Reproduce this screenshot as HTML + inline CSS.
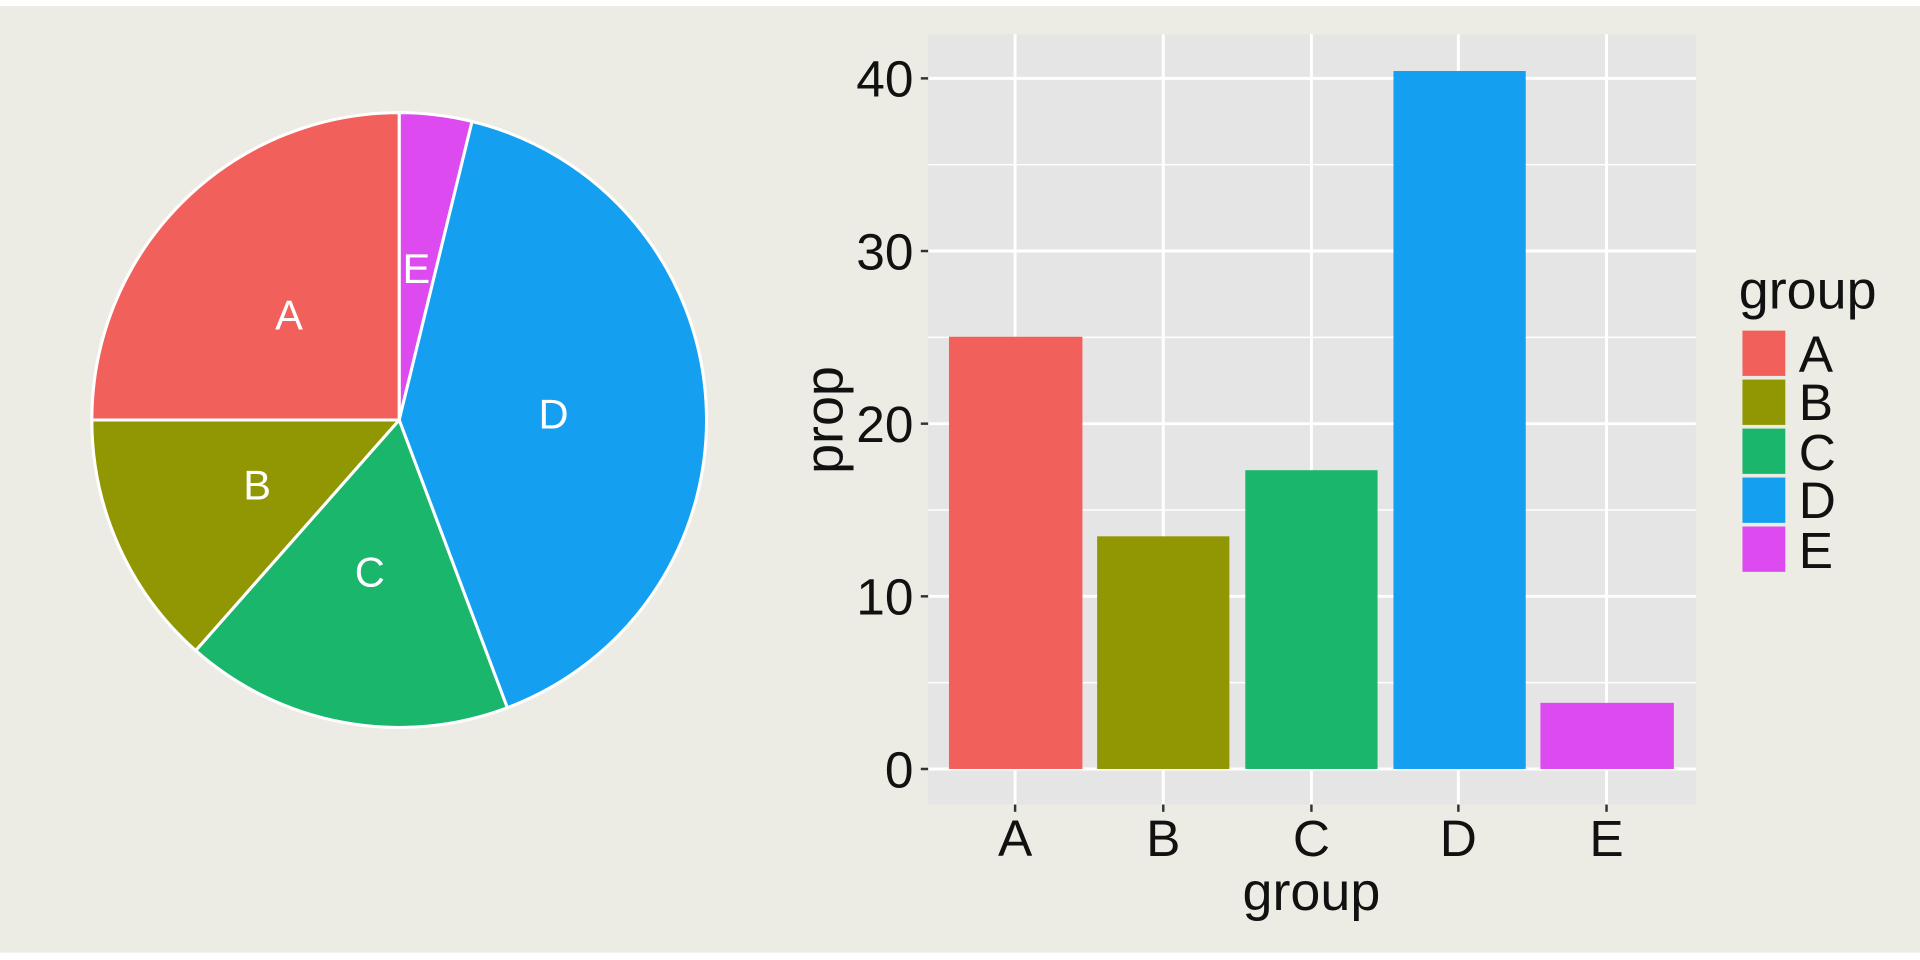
<!DOCTYPE html>
<html><head><style>html,body{margin:0;padding:0;background:#fff}svg{display:block}</style></head>
<body>
<svg width="1920" height="960" viewBox="0 0 1568 784" xmlns="http://www.w3.org/2000/svg" font-family="Liberation Sans, Arial, sans-serif">
<rect x="0" y="0" width="1568" height="784" fill="#fff"/>
<rect x="0" y="5" width="1568" height="773" fill="#ECECE4"/>
<g stroke="#fff" stroke-width="2.5" stroke-linejoin="round">
<path d="M326,343 L326,92 A251,251 0 0 1 385.5,99.2 Z" fill="#DC4AF0"/>
<path d="M326,343 L385.5,99.2 A251,251 0 0 1 414.3,578 Z" fill="#149FF1"/>
<path d="M326,343 L414.3,578 A251,251 0 0 1 159.8,531.3 Z" fill="#19B66C"/>
<path d="M326,343 L159.8,531.3 A251,251 0 0 1 75,343 Z" fill="#919603"/>
<path d="M326,343 L75,343 A251,251 0 0 1 326,92 Z" fill="#F2605C"/>
</g>
<g fill="#fff" font-size="34" text-anchor="middle">
<text x="236" y="269">A</text><text x="210" y="408">B</text><text x="302" y="479">C</text><text x="452" y="350">D</text><text x="340" y="231">E</text>
</g>
<rect x="758" y="28" width="627" height="629" fill="#E5E5E5"/>
<g stroke="#fff" stroke-width="1.2">
<line x1="758" x2="1385" y1="557.5" y2="557.5"/><line x1="758" x2="1385" y1="416.5" y2="416.5"/>
<line x1="758" x2="1385" y1="275.5" y2="275.5"/><line x1="758" x2="1385" y1="134.5" y2="134.5"/>
</g>
<g stroke="#fff" stroke-width="2.4">
<line x1="758" x2="1385" y1="628" y2="628"/><line x1="758" x2="1385" y1="487" y2="487"/>
<line x1="758" x2="1385" y1="346" y2="346"/><line x1="758" x2="1385" y1="205" y2="205"/>
<line x1="758" x2="1385" y1="64" y2="64"/>
<line y1="28" y2="657" x1="829" x2="829"/><line y1="28" y2="657" x1="950" x2="950"/>
<line y1="28" y2="657" x1="1071" x2="1071"/><line y1="28" y2="657" x1="1191" x2="1191"/>
<line y1="28" y2="657" x1="1312" x2="1312"/>
</g>
<rect x="775" y="275" width="109" height="353" fill="#F2605C"/>
<rect x="896" y="438" width="108" height="190" fill="#919603"/>
<rect x="1017" y="384" width="108" height="244" fill="#19B66C"/>
<rect x="1138" y="58" width="108" height="570" fill="#149FF1"/>
<rect x="1258" y="574" width="109" height="54" fill="#DC4AF0"/>
<g stroke="#333" stroke-width="2">
<line x1="752" x2="758" y1="628" y2="628"/><line x1="752" x2="758" y1="487" y2="487"/>
<line x1="752" x2="758" y1="346" y2="346"/><line x1="752" x2="758" y1="205" y2="205"/>
<line x1="752" x2="758" y1="64" y2="64"/>
<line y1="657" y2="663" x1="829" x2="829"/><line y1="657" y2="663" x1="950" x2="950"/>
<line y1="657" y2="663" x1="1071" x2="1071"/><line y1="657" y2="663" x1="1191" x2="1191"/>
<line y1="657" y2="663" x1="1312" x2="1312"/>
</g>
<g fill="#111" font-size="42" text-anchor="end">
<text x="746" y="643">0</text><text x="746" y="502">10</text><text x="746" y="361">20</text><text x="746" y="220">30</text><text x="746" y="79">40</text>
</g>
<g fill="#111" font-size="42" text-anchor="middle">
<text x="829" y="699">A</text><text x="950" y="699">B</text><text x="1071" y="699">C</text><text x="1191" y="699">D</text><text x="1312" y="699">E</text>
<text x="1071" y="743" font-size="44">group</text>
<text transform="translate(688,343) rotate(-90)" font-size="44" y="0">prop</text>
</g>
<text x="1420" y="252" font-size="44" fill="#111">group</text>
<rect x="1423" y="270" width="35" height="37" fill="#F2605C"/>
<rect x="1423" y="310" width="35" height="37" fill="#919603"/>
<rect x="1423" y="350" width="35" height="37" fill="#19B66C"/>
<rect x="1423" y="390" width="35" height="37" fill="#149FF1"/>
<rect x="1423" y="430" width="35" height="37" fill="#DC4AF0"/>
<g fill="#111" font-size="42">
<text x="1469" y="304">A</text><text x="1469" y="343">B</text><text x="1469" y="384">C</text><text x="1469" y="423">D</text><text x="1469" y="464">E</text>
</g>
</svg>
</body></html>
